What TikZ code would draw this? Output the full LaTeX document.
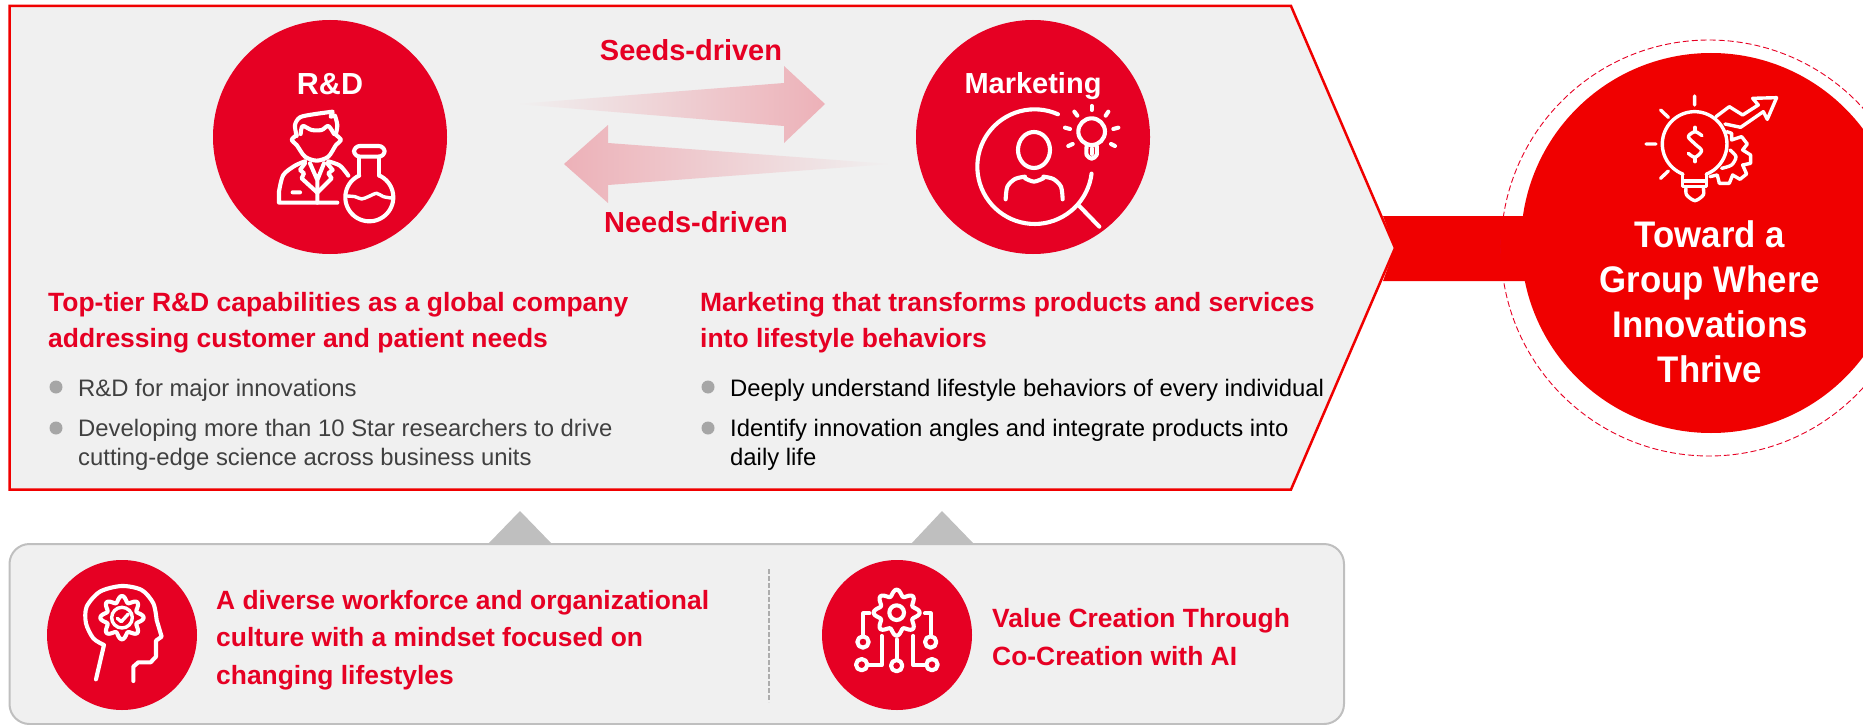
\documentclass[tikz,border=0pt]{standalone}
\usepackage{fontspec}
\setmainfont{Liberation Sans}
\newfontfamily\goalfont[FakeStretch=0.94]{Liberation Sans}
\definecolor{brandred}{HTML}{E60023}
\definecolor{goalred}{HTML}{F00000}
\definecolor{panelgray}{HTML}{F0F0F0}
\definecolor{edgegray}{HTML}{BFBFBF}
\definecolor{arrowpink}{HTML}{EDB1B8}
\newcommand{\gearpath}[3]{%
  \draw[iconline] plot[domain=0:360, samples=121, smooth] ({#1+(#3+9*cos(8*\x))*cos(\x)},{#2+(#3+9*cos(8*\x))*sin(\x)}) -- cycle;}

\begin{document}
\begin{tikzpicture}[x=1pt, y=-1pt,
                    redcircle/.style={circle, fill=brandred, inner sep=0pt},
                    biglabel/.style={anchor=base, inner sep=0pt, text=brandred, font=\fontsize{29}{34}\selectfont\bfseries},
                    circlabel/.style={anchor=base, inner sep=0pt, text=white, font=\fontsize{29}{34}\selectfont\bfseries},
                    headtext/.style={anchor=base west, inner sep=0pt, align=left, text=brandred, font=\fontsize{26.45}{36}\selectfont\bfseries},
                    bodytext/.style={anchor=base west, inner sep=0pt, align=left, font=\fontsize{23.85}{29}\selectfont},
                    lowertext/.style={anchor=base west, inner sep=0pt, align=left, text=brandred, font=\fontsize{26.4}{37.5}\selectfont\bfseries},
                    goaltext/.style={anchor=base, inner sep=0pt, align=center, text=white, font=\goalfont\fontsize{37}{44.7}\selectfont\bfseries},
                    bulletdot/.style={circle, fill=black!35, minimum size=13pt, inner sep=0pt},
                    iconline/.style={white, line width=4.1pt, line cap=round, line join=round},
                    thinline/.style={white, line width=3.4pt, line cap=round, line join=round}]
  \useasboundingbox (0,0) rectangle (1863,725);

  \draw[goalred, line width=2.5pt, fill=panelgray] (9.5,6) -- (1291,6) -- (1395,248) -- (1291,489.5) -- (9.5,489.5) -- cycle;

  \shade[left color=panelgray, right color=arrowpink] (517,104) -- (784,83) -- (784,66) -- (825,104) -- (784,143) -- (784,126) -- cycle;
  \shade[left color=arrowpink, right color=panelgray] (890,164) -- (608,143) -- (608,125) -- (564,164) -- (608,203) -- (608,185) -- cycle;
  \node[biglabel] (seeds) at (691,61) {Seeds-driven};
  \node[biglabel] (needs) at (696,232) {Needs-driven};

  \node[redcircle, minimum size=234pt] (rd) at (330,137) {};
  \node[redcircle, minimum size=234pt] (marketing) at (1033,137) {};
  \node[circlabel, font=\fontsize{30.5}{34}\selectfont\bfseries] (rdlabel) at (330,94) {R\&D};
  \node[circlabel] (marketinglabel) at (1033,93) {Marketing};

  \begin{scope}[shift={(180,0)}, x=0.3333pt, y=-0.3333pt]
    \draw[iconline] plot[smooth] coordinates {(350,408) (345,375) (360,352) (400,343) (458,335)} -- (452,350) -- (465,347)
       plot[smooth] coordinates {(465,347) (472,375) (468,402)};
    \draw[iconline] plot[smooth] coordinates {(362,402) (368,378) (395,390) (425,390) (445,378) (462,402)};
    \draw[iconline] plot[smooth] coordinates {(350,405) (335,420) (350,435) (375,470) (410,482) (445,470) (468,435) (483,420) (468,405)};
    \draw[iconline] (472,608) -- (297,608) -- (297,575) plot[smooth] coordinates {(297,575) (310,525) (345,497) (375,484)};
    \draw[iconline] plot[smooth] coordinates {(445,484) (480,497) (505,527)};
    \draw[iconline] (375,490) -- (360,510) -- (372,520) -- (365,535) -- (412,578) -- (455,535) -- (445,520) -- (458,510) -- (442,490);
    \draw[iconline] (390,490) -- (412,540) -- (432,490) (412,540) -- (412,608) (338,577) -- (360,577);
    \draw[iconline, rounded corners=6pt] (522,438) rectangle (614,470);
    \draw[iconline] (538,470) -- (538,527) (598,470) -- (598,527);
    \draw[iconline] plot[domain=-65:245, samples=50] ({568+72*cos(\x)},{592+72*sin(\x)});
    \draw[thinline] plot[smooth] coordinates {(498,588) (525,590) (545,597) (565,590) (590,580) (610,590) (640,595)};
  \end{scope}

  \begin{scope}[shift={(890,0)}, x=0.3333pt, y=-0.3333pt]
    \draw[iconline] plot[domain=7:294, samples=60] ({434+172*cos(\x)},{500+172*sin(\x)});
    \draw[iconline] (565,615) -- (628,680);
    \draw[iconline] (432,450) ellipse [x radius=48, y radius=54];
    \draw[iconline] plot[smooth] coordinates {(347,598) (352,560) (375,537) (405,530)};
    \draw[iconline] plot[smooth] coordinates {(405,535) (432,545) (460,535)};
    \draw[iconline] plot[smooth] coordinates {(460,530) (490,537) (513,560) (518,598)};
    \draw[iconline] (605,395) circle [radius=40];
    \draw[iconline] plot[smooth] coordinates {(590,437) (590,465) (605,476) (620,465) (620,437)};
    \draw[iconline] (605,445) -- (605,462);
    \foreach \rayfrom/\rayto in {{(605,318)}/{(605,330)}, {(553,335)}/{(562,347)}, {(655,335)}/{(647,347)}, {(525,383)}/{(540,387)},
                                 {(685,383)}/{(670,387)}, {(535,438)}/{(548,432)}, {(675,438)}/{(663,432)}}
      \draw[iconline] \rayfrom -- \rayto;
  \end{scope}

  \node[headtext] (rdhead) at (48,347) {Top-tier R\&D capabilities as a global company\\addressing customer and patient needs};
  \node[bulletdot] (rddotone) at (56,387) {};
  \node[bodytext, text=black!75] (rdone) at (78,396) {R\&D for major innovations};
  \node[bulletdot] (rddottwo) at (56,428) {};
  \node[bodytext, text=black!75] (rdtwo) at (78,465) {Developing more than 10 Star researchers to drive\\cutting-edge science across business units};

  \node[headtext] (marketinghead) at (700,347) {Marketing that transforms products and services\\into lifestyle behaviors};
  \node[bulletdot] (marketingdotone) at (708,387) {};
  \node[bodytext] (marketingone) at (730,396) {Deeply understand lifestyle behaviors of every individual};
  \node[bulletdot] (marketingdottwo) at (708,428) {};
  \node[bodytext] (marketingtwo) at (730,465) {Identify innovation angles and integrate products into\\daily life};

  \fill[goalred] (1383,216) -- (1530,216) -- (1530,281) -- (1383,281) -- (1395,248) -- cycle;
  \draw[brandred, line width=0.9pt, dash pattern=on 6pt off 3pt] (1709,248) circle [radius=208];
  \node[circle, fill=goalred, minimum size=380pt, inner sep=0pt] (goal) at (1711,243) {};
  \fill[goalred] (1501,216) rectangle (1530,281);
  \node[goaltext] (goallabel) at (1710,382) {Toward a\\Group Where\\Innovations\\Thrive};

  \begin{scope}[shift={(1360,20)}, x=0.3333pt, y=-0.3333pt]
    \draw[thinline] plot[domain=111:429, samples=60] ({1004+97*cos(\x)},{372+97*sin(\x)});
    \draw[thinline] (968,463) -- (968,500) -- (1040,500) -- (1040,463) (972,483) -- (1036,483);
    \draw[thinline] plot[smooth] coordinates {(978,505) (980,525) (1005,542) (1030,525) (1030,505)};
    \draw[thinline] (1004,228) -- (1004,255) (902,270) -- (925,292) (858,372) -- (888,372) (902,475) -- (925,453);
    \draw[thinline] plot[smooth] coordinates {(1026,347) (1005,335) (985,350) (1005,372) (1025,392) (1005,412) (985,400)};
    \draw[thinline] (1005,322) -- (1005,335) (1005,412) -- (1005,425);
    \draw[thinline] (1068,290) -- (1108,260) -- (1148,285) -- (1195,255) -- (1178,235) -- (1250,233) -- (1222,298) -- (1210,275) -- (1142,322) -- (1095,312);
    \draw[thinline] (1100,335) -- (1115,340) -- (1115,360) -- (1145,350) -- (1162,372) -- (1148,390) -- (1172,405) -- (1172,430) -- (1148,435)
       -- (1160,462) -- (1140,478) -- (1118,465) -- (1108,490) -- (1078,490) -- (1072,465) -- (1050,470);
    \draw[thinline] plot[smooth] coordinates {(1110,390) (1128,410) (1115,435) (1085,445)};
  \end{scope}

  \fill[edgegray] (488,544) -- (520,511) -- (552,544) -- cycle;
  \fill[edgegray] (911,544) -- (942,511) -- (974,544) -- cycle;
  \draw[edgegray, line width=2pt, fill=panelgray, rounded corners=20pt] (9.5,544) rectangle (1344,724);
  \draw[black!32, line width=2.5pt, dash pattern=on 5pt off 2pt] (769,569) -- (769,702);

  \node[redcircle, minimum size=150pt] (culture) at (122,635) {};
  \node[redcircle, minimum size=150pt] (ai) at (897,635) {};

  \begin{scope}[shift={(0,500)}, x=0.3333pt, y=-0.3333pt]
    \draw[iconline] (288,538) -- (312,435) plot[smooth] coordinates {(312,435) (280,415) (258,370) (260,320) (300,275) (365,258) (425,270) (460,310) (470,360)}
       -- (485,410) -- (468,422) -- (468,470) -- (452,487) -- (415,487) -- (400,500) -- (400,543);
    \gearpath{366}{353}{56}
    \draw[thinline] (366,353) circle [radius=31];
    \draw[thinline] (352,355) -- (364,365) -- (385,342);
  \end{scope}

  \begin{scope}[shift={(740,500)}, x=0.3333pt, y=-0.3333pt]
    \gearpath{470}{338}{60}
    \draw[iconline] (470,338) circle [radius=22];
    \draw[iconline] (388,340) -- (370,340) -- (370,408) (555,340) -- (572,340) -- (572,408);
    \draw[iconline] (425,408) -- (425,495) -- (385,495) (470,418) -- (470,478) (520,408) -- (520,495) -- (555,495);
    \draw[iconline] (369,426) circle [radius=17] (572,426) circle [radius=17] (365,494) circle [radius=17] (470,497) circle [radius=17] (576,494) circle [radius=17];
  \end{scope}

  \node[lowertext] (culturetext) at (216,684) {A diverse workforce and organizational\\culture with a mindset focused on\\changing lifestyles};
  \node[lowertext] (aitext) at (992,665) {Value Creation Through\\Co-Creation with AI};
\end{tikzpicture}
\end{document}
